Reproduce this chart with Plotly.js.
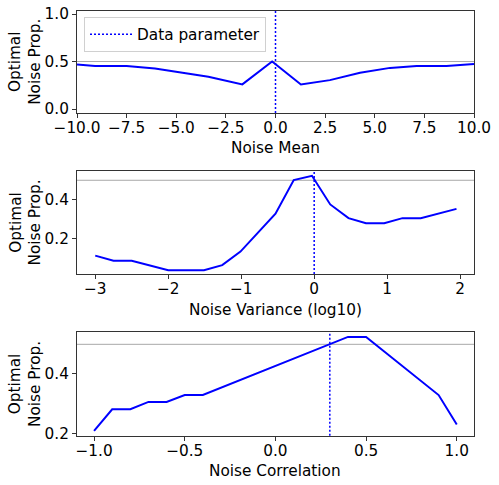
<!DOCTYPE html>
<html>
<head>
<meta charset="utf-8">
<script src="https://cdn.plot.ly/plotly-3.0.1.min.js"></script>
<style>html,body{margin:0;padding:0;background:#fff;}#chart{width:499px;height:485px;}</style>
</head>
<body>
<div id="chart"></div>
<script>
// Panel 1: Noise Mean
const meanX = [-10, -9.09, -7.5, -6.07, -3.38, -1.67, -0.17, 1.28, 2.74, 4.26, 5.77, 7.11, 8.62, 10];
const meanY = [0.469, 0.454, 0.454, 0.427, 0.339, 0.259, 0.5, 0.259, 0.304, 0.381, 0.433, 0.454, 0.454, 0.475];
const meanParam = 0;
const meanTickVals = [-10, -7.5, -5, -2.5, 0, 2.5, 5, 7.5, 10];
const meanTickText = ['−10.0', '−7.5', '−5.0', '−2.5', '0.0', '2.5', '5.0', '7.5', '10.0'];
const meanYTickVals = [0, 0.5, 1.0];
const meanYTickText = ['0.0', '0.5', '1.0'];
// Panel 2: Noise Variance (log10)
const varX = [-3, -2.75, -2.5, -2, -1.51, -1.26, -1.01, -0.53, -0.28, -0.03, 0.22, 0.47, 0.71, 0.96, 1.21, 1.46, 1.95];
const varY = [0.110, 0.084, 0.084, 0.035, 0.035, 0.061, 0.131, 0.327, 0.501, 0.523, 0.375, 0.304, 0.278, 0.278, 0.304, 0.304, 0.352];
const varParam = 0;
const varTickVals = [-3, -2, -1, 0, 1, 2];
const varTickText = ['−3', '−2', '−1', '0', '1', '2'];
const varYTickVals = [0.2, 0.4];
const varYTickText = ['0.2', '0.4'];
// Panel 3: Noise Correlation
const corrX = [-1.0, -0.9, -0.8, -0.7, -0.6, -0.5, -0.4, 0.4, 0.5, 0.9, 1.0];
const corrY = [0.208, 0.281, 0.281, 0.306, 0.306, 0.329, 0.329, 0.525, 0.525, 0.329, 0.230];
const corrParam = 0.3;
const corrTickVals = [-1, -0.5, 0, 0.5, 1];
const corrTickText = ['−1.0', '−0.5', '0.0', '0.5', '1.0'];
const corrYTickVals = [0.2, 0.4];
const corrYTickText = ['0.2', '0.4'];
const refLevel = 0.5;

const xTitles = ['Noise Mean', 'Noise Variance (log10)', 'Noise Correlation'];
const yTitle = 'Optimal<br>Noise Prop.';
const legendName = 'Data parameter';

const font = {family: 'DejaVu Sans', size: 15.3, color: '#000'};
const blue = '#0000ff';

const traces = [
  {x: meanX, y: meanY, xaxis: 'x', yaxis: 'y', mode: 'lines', line: {color: blue, width: 2}, showlegend: false},
  {x: varX, y: varY, xaxis: 'x2', yaxis: 'y2', mode: 'lines', line: {color: blue, width: 2}, showlegend: false},
  {x: corrX, y: corrY, xaxis: 'x3', yaxis: 'y3', mode: 'lines', line: {color: blue, width: 2}, showlegend: false}
];

function axisBase(extra) {
  return Object.assign({
    showline: true, mirror: true, linecolor: '#333', linewidth: 1,
    ticks: 'outside', ticklen: 4, tickwidth: 1, tickcolor: '#333',
    showgrid: false, zeroline: false, tickfont: font, tickmode: 'array'
  }, extra);
}

const hline = (xr, yr) => ({type: 'line', xref: xr + ' domain', x0: 0, x1: 1, yref: yr, y0: refLevel, y1: refLevel,
  line: {color: '#a8a8a8', width: 1}, layer: 'below'});
const vline = (xr, yr, xv, legend) => Object.assign({type: 'line', xref: xr, x0: xv, x1: xv, yref: yr + ' domain', y0: 0, y1: 1,
  line: {color: blue, width: 1.5, dash: '2px,2px'}}, legend ? {showlegend: true, name: legendName} : {});

// panel geometry (paper fractions)
const W = 499, H = 485;
const xDom = [77 / W, 474 / W];
const yDoms = [[1 - 113 / H, 1 - 10.7 / H], [1 - 274 / H, 1 - 171 / H], [1 - 435.7 / H, 1 - 332.3 / H]];
const xTitleY = [148, 309.5, 470.5];

const annotations = [];
for (let i = 0; i < 3; i++) {
  annotations.push({text: xTitles[i], xref: 'paper', yref: 'paper', x: (xDom[0] + xDom[1]) / 2, y: 1 - xTitleY[i] / H,
    xanchor: 'center', yanchor: 'middle', showarrow: false, font: font});
  annotations.push({text: yTitle, xref: 'paper', yref: 'paper', x: 25 / W, y: (yDoms[i][0] + yDoms[i][1]) / 2,
    xanchor: 'center', yanchor: 'middle', showarrow: false, textangle: -90, font: font});
}

const layout = {
  width: W, height: H,
  margin: {l: 0, r: 0, t: 0, b: 0},
  paper_bgcolor: '#fff', plot_bgcolor: '#fff',
  font: font,
  showlegend: true,
  legend: {x: 84 / W, y: 1 - 16.7 / H, xanchor: 'left', yanchor: 'top', bgcolor: 'rgba(255,255,255,0.8)',
    bordercolor: '#d0d0d0', borderwidth: 1, font: font, itemwidth: 42},
  xaxis: axisBase({domain: xDom, anchor: 'y', range: [-10, 10], tickvals: meanTickVals, ticktext: meanTickText, ticklabelstandoff: -3}),
  yaxis: axisBase({domain: yDoms[0], anchor: 'x', range: [-0.042, 1.035], tickvals: meanYTickVals, ticktext: meanYTickText}),
  xaxis2: axisBase({domain: xDom, anchor: 'y2', range: [-3.25, 2.19], tickvals: varTickVals, ticktext: varTickText, ticklabelstandoff: -3}),
  yaxis2: axisBase({domain: yDoms[1], anchor: 'x2', range: [0.015, 0.548], tickvals: varYTickVals, ticktext: varYTickText}),
  xaxis3: axisBase({domain: xDom, anchor: 'y3', range: [-1.094, 1.095], tickvals: corrTickVals, ticktext: corrTickText, ticklabelstandoff: -3}),
  yaxis3: axisBase({domain: yDoms[2], anchor: 'x3', range: [0.192, 0.5405], tickvals: corrYTickVals, ticktext: corrYTickText}),
  annotations: annotations,
  shapes: [
    hline('x', 'y'), hline('x2', 'y2'), hline('x3', 'y3'),
    vline('x', 'y', meanParam, true), vline('x2', 'y2', varParam, false), vline('x3', 'y3', corrParam, false)
  ]
};

Plotly.newPlot('chart', traces, layout, {displayModeBar: false, staticPlot: true});
</script>
</body>
</html>
